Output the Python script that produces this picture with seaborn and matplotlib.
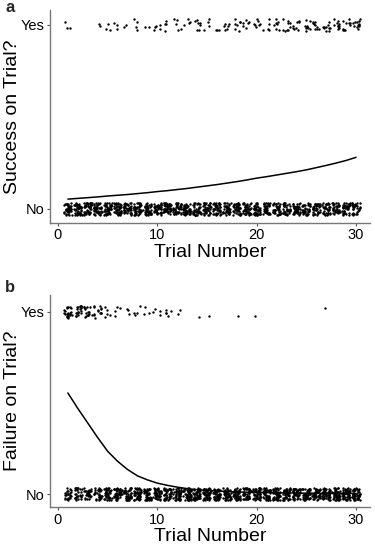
import numpy as np
import pandas as pd
import matplotlib
matplotlib.use("Agg")
import matplotlib.pyplot as plt
import seaborn as sns

# ---------------- data ----------------
trials = list(range(1, 31))

# Panel a: Success on trial? counts per trial
success_yes = [3, 0, 0, 2, 3, 3, 2, 4, 2, 5, 4, 5, 4, 7, 4, 3, 6, 7, 6, 7,
               5, 7, 9, 8, 9, 9, 10, 10, 10, 12]
success_no = [42, 45, 45, 43, 42, 42, 43, 41, 43, 40, 41, 40, 41, 38, 41, 42, 39, 38, 39, 38,
              40, 38, 36, 37, 36, 36, 35, 35, 35, 33]
# fitted probability of success
success_fit = [0.053, 0.057, 0.061, 0.065, 0.070, 0.074, 0.078, 0.083, 0.088, 0.094,
               0.099, 0.105, 0.111, 0.118, 0.125, 0.132, 0.140, 0.148, 0.157, 0.167,
               0.175, 0.184, 0.193, 0.202, 0.212, 0.224, 0.236, 0.249, 0.263, 0.280]

# Panel b: Failure on trial? counts per trial
failure_yes = [22, 19, 16, 13, 5, 4, 3, 4, 3, 4, 5, 2, 0, 1, 1, 0, 0, 1, 0, 1,
               0, 0, 0, 0, 0, 0, 1, 0, 0, 0]
failure_no = [23, 26, 29, 32, 40, 41, 42, 41, 42, 41, 40, 43, 45, 44, 44, 45, 45, 44, 45, 44,
              45, 45, 45, 45, 45, 45, 44, 45, 45, 45]
failure_fit = [0.555, 0.47, 0.39, 0.31, 0.235, 0.18, 0.135, 0.100, 0.078, 0.060,
               0.048, 0.038, 0.030, 0.024, 0.020, 0.017, 0.014, 0.012, 0.010, 0.009,
               0.008, 0.007, 0.006, 0.006, 0.005, 0.005, 0.004, 0.004, 0.004, 0.003]

outcome_labels = ["No", "Yes"]
x_ticks = [0, 10, 20, 30]


def long_table(yes_counts, no_counts):
    rows = []
    for t, ny, nn in zip(trials, yes_counts, no_counts):
        rows += [(t, 1)] * ny + [(t, 0)] * nn
    return pd.DataFrame(rows, columns=["trial", "outcome"])


df_a = long_table(success_yes, success_no)
df_b = long_table(failure_yes, failure_no)
fit_a = pd.DataFrame({"trial": trials, "p": success_fit})
fit_b = pd.DataFrame({"trial": trials, "p": failure_fit})

# ---------------- figure ----------------
sns.set_theme(style="ticks")
plt.rcParams["font.family"] = ["Liberation Sans", "DejaVu Sans"]
np.random.seed(7)

fig = plt.figure(figsize=(3.75, 5.45), dpi=100)
W, H = 375, 545


def add_axes(left, top, right, bottom):
    return fig.add_axes([left / W, 1 - bottom / H, (right - left) / W, (bottom - top) / H])


ax_a = add_axes(50, 10, 370, 222.7)
ax_b = add_axes(50, 295, 370, 507)

panels = [
    (ax_a, df_a, fit_a, "Success on Trial?", (-0.075, 1.08)),
    (ax_b, df_b, fit_b, "Failure on Trial?", (-0.071, 1.093)),
]

for ax, df, fit, ylab, ylim in panels:
    sns.regplot(data=df, x="trial", y="outcome", ax=ax, fit_reg=False,
                x_jitter=0.4, y_jitter=0.034,
                scatter_kws=dict(s=3.0, color="black", linewidths=0, alpha=1))
    sns.lineplot(data=fit, x="trial", y="p", ax=ax, color="black", linewidth=1.1)
    ax.set_xlim(-0.8, 31.4)
    ax.set_ylim(*ylim)
    ax.set_xticks(x_ticks)
    ax.set_yticks([0, 1])
    ax.set_yticklabels(outcome_labels)
    ax.set_xlabel("Trial Number", fontsize=14, color="black", labelpad=1)
    ax.set_ylabel(ylab, fontsize=14, color="black")
    ax.yaxis.set_label_coords(-0.092, 0.5)
    ax.tick_params(axis="both", labelsize=10.5, colors="#555555", labelcolor="black",
                   length=2.5, width=0.8, pad=1.5)
    for side in ["left", "bottom"]:
        ax.spines[side].set_color("#777777")
        ax.spines[side].set_linewidth(1.0)
    sns.despine(ax=ax)
    ax.grid(False)

fig.text(10 / W, 1 - 8 / H, "a", fontsize=12, fontweight="bold", ha="center", va="center")
fig.text(10 / W, 1 - 288 / H, "b", fontsize=12, fontweight="bold", ha="center", va="center")

fig.savefig("out.png", dpi=100)
